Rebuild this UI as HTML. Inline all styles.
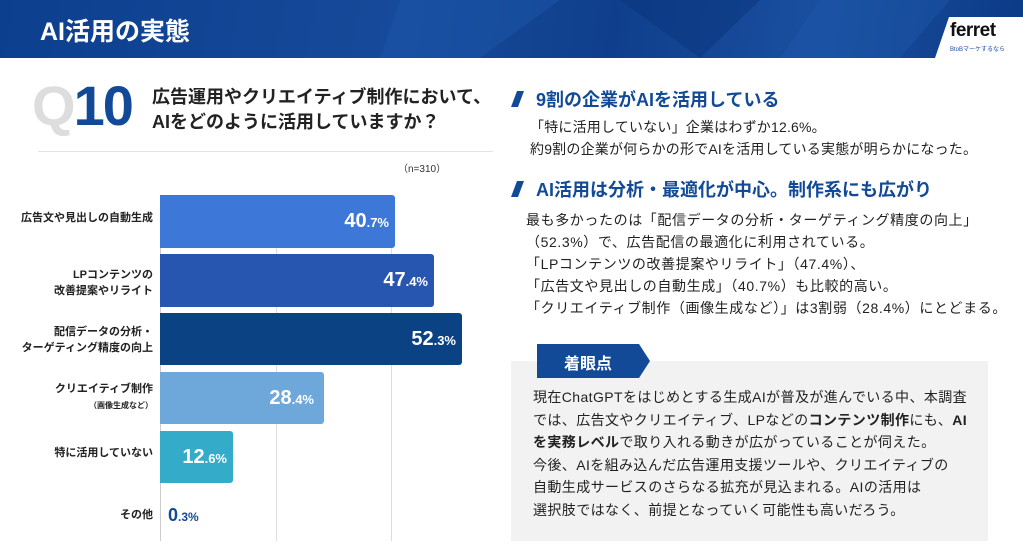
<!DOCTYPE html>
<html><head><meta charset="utf-8"><style>
*{margin:0;padding:0;box-sizing:border-box}
body{width:1023px;height:549px;background:#fff;position:relative;overflow:hidden;font-family:"Liberation Sans","Noto Sans CJK JP",sans-serif;color:#222}
.a{position:absolute;white-space:nowrap}
.hdr{left:0;top:0;width:1023px;height:58px;background:linear-gradient(100deg,#0d3f8f 0%,#174a9a 40%,#0f3f8c 60%,#1a4fa0 80%,#0b3a86 100%)}
.bar{position:absolute;left:160px;border-radius:0 3px 3px 0;color:#fff;font-weight:bold;font-size:20px;text-align:right;padding-right:6px}
.bar small{font-size:13px}
.lab{position:absolute;right:870px;font-size:11px;font-weight:bold;text-align:right;line-height:16px;color:#222}
.grid{position:absolute;top:195px;height:346px;width:1px;background:#ddd}
.t{font-size:14px;color:#222;line-height:22px}
</style></head><body>
<div class="a hdr"></div>
<svg class="a" style="left:0;top:0" width="1023" height="58"><polygon points="400,0 560,0 480,58 380,58" fill="#1c55a8" opacity=".5"/><polygon points="620,0 760,0 700,58" fill="#0a347a" opacity=".5"/><polygon points="820,0 950,0 900,58 780,58" fill="#1f5aab" opacity=".4"/></svg>
<div class="a" style="left:40px;top:12px;font-size:25px;font-weight:bold;color:#fff">AI活用の実態</div>
<svg class="a" style="left:935px;top:17px" width="88" height="41"><polygon points="14,0 88,0 88,41 0,41" fill="#fff"/></svg>
<div class="a" style="left:950px;top:20px;font-size:19px;font-weight:bold;color:#111;letter-spacing:-0.5px">ferret</div>
<div class="a" style="left:950px;top:44px;font-size:6px;color:#1a4fa0">BtoBマーケするなら</div>
<div class="a" style="left:32px;top:76px;font-size:56px;font-weight:bold;color:#ddd;line-height:60px;letter-spacing:-2px">Q<span style="color:#124a97">10</span></div>
<div class="a" style="left:152px;top:85px;font-size:18px;font-weight:bold;line-height:25px">広告運用やクリエイティブ制作において、<br>AIをどのように活用していますか？</div>
<div class="a" style="left:38px;top:151px;width:455px;height:1px;background:#e4e4e4"></div>
<div class="a" style="left:398px;top:160px;font-size:10px;color:#333">（n=310）</div>
<div class="grid" style="left:160px;background:#ccc"></div>
<div class="grid" style="left:276px"></div>
<div class="grid" style="left:391px"></div>
<div class="bar" style="top:195px;height:53px;width:235px;background:#3d78d8;line-height:53px">40<small>.7%</small></div>
<div class="bar" style="top:254px;height:53px;width:274px;background:#2656b0;line-height:53px">47<small>.4%</small></div>
<div class="bar" style="top:313px;height:52px;width:302px;background:#0b4283;line-height:52px">52<small>.3%</small></div>
<div class="bar" style="top:372px;height:52px;width:164px;background:#6ea7da;line-height:52px;padding-right:10px">28<small>.4%</small></div>
<div class="bar" style="top:431px;height:52px;width:73px;background:#33abc9;line-height:52px">12<small>.6%</small></div>
<div class="a" style="left:168px;top:505px;font-size:18px;font-weight:bold;color:#124a97">0<small style="font-size:12px">.3%</small></div>
<div class="lab" style="top:210px">広告文や見出しの自動生成</div>
<div class="lab" style="top:267px">LPコンテンツの<br>改善提案やリライト</div>
<div class="lab" style="top:324px">配信データの分析・<br>ターゲティング精度の向上</div>
<div class="lab" style="top:381px">クリエイティブ制作<br><span style="font-size:8px">（画像生成など）</span></div>
<div class="lab" style="top:445px">特に活用していない</div>
<div class="lab" style="top:507px">その他</div>
<svg class="a" style="left:510px;top:89px" width="20" height="20"><polygon points="7,2 14,2 8,18 1,18" fill="#124a97"/></svg>
<div class="a" style="left:536px;top:86px;font-size:18px;font-weight:bold;color:#124a97">9割の企業がAIを活用している</div>
<div class="a t" style="left:530px;top:116px;letter-spacing:.2px">「特に活用していない」企業はわずか12.6%。<br>約9割の企業が何らかの形でAIを活用している実態が明らかになった。</div>
<svg class="a" style="left:510px;top:179px" width="20" height="20"><polygon points="7,2 14,2 8,18 1,18" fill="#124a97"/></svg>
<div class="a" style="left:536px;top:176px;font-size:18px;font-weight:bold;color:#124a97">AI活用は分析・最適化が中心。制作系にも広がり</div>
<div class="a t" style="left:526px;top:209px;letter-spacing:.6px">最も多かったのは「配信データの分析・ターゲティング精度の向上」<br>（52.3%）で、広告配信の最適化に利用されている。<br>「LPコンテンツの改善提案やリライト」（47.4%）、<br>「広告文や見出しの自動生成」（40.7%）も比較的高い。<br>「クリエイティブ制作（画像生成など）」は3割弱（28.4%）にとどまる。</div>
<div class="a" style="left:511px;top:361px;width:477px;height:180px;background:#f2f2f2"></div>
<svg class="a" style="left:537px;top:344px" width="114" height="34"><polygon points="0,0 102,0 113,17 102,34 0,34" fill="#124a97"/></svg>
<div class="a" style="left:564px;top:350px;font-size:16px;font-weight:bold;color:#fff">着眼点</div>
<div class="a t" style="left:533px;top:386px;line-height:22.5px;letter-spacing:.4px">現在ChatGPTをはじめとする生成AIが普及が進んでいる中、本調査<br>では、広告文やクリエイティブ、LPなどの<b>コンテンツ制作</b>にも、<b>AI</b><br><b>を実務レベル</b>で取り入れる動きが広がっていることが伺えた。<br>今後、AIを組み込んだ広告運用支援ツールや、クリエイティブの<br>自動生成サービスのさらなる拡充が見込まれる。AIの活用は<br>選択肢ではなく、前提となっていく可能性も高いだろう。</div>
</body></html>
